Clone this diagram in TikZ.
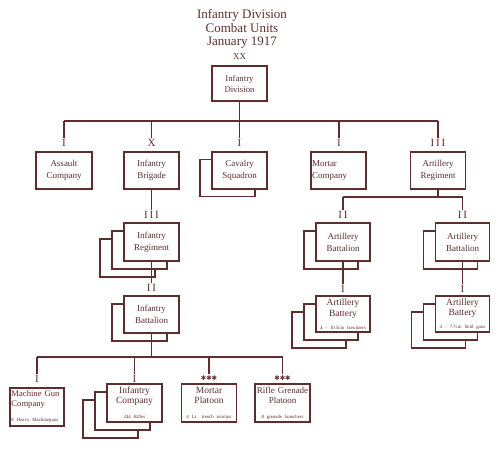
\documentclass[tikz,border=0pt]{standalone}
\usepackage{fontspec}
\setmainfont{Liberation Serif}
\newfontfamily\symfont{DejaVu Sans}
\usetikzlibrary{calc}
\definecolor{ink}{RGB}{94,46,46}
\tikzset{
  ubox/.style={draw=ink, line width=1.6pt, fill=white, minimum width=55pt, minimum height=37pt, inner sep=0pt, text width=54pt, align=center, text=ink, font=\fontsize{9}{12}\selectfont},
  ech/.style={text=ink, inner sep=0.5pt, font=\fontsize{11}{11}\selectfont},
  conn/.style={draw=ink, line width=1.2pt},
}
\newcommand{\smalltxt}[1]{{\fontsize{4.8}{5.5}\selectfont #1}}
\newcommand{\stars}{{\symfont\fontsize{6.5}{6.5}\selectfont ✱✱✱}}
\begin{document}
\begin{tikzpicture}[x=1pt,y=-1pt]
\useasboundingbox (0,0) rectangle (501,454);
% title
\node[text=ink, align=center, font=\fontsize{13}{13.5}\selectfont] (title) at (242,29) {Infantry Division\\Combat Units\\January 1917};
\node[ech, font=\fontsize{9}{9}\selectfont] (lxx) at (239.5,56.5) {XX};
\node[ubox, minimum height=35pt, font=\fontsize{8.7}{11}\selectfont] (div) at (239.5,83.5) {Infantry\\Division};

% top bar
\coordinate (hA) at (64,121);
\coordinate (hB) at (151.5,121);
\coordinate (hC) at (239.5,121);
\coordinate (hM) at (339,121);
\coordinate (hR) at (438,121);
\draw[conn] (div.south) -- (hC);
\draw[conn] (hA) -- (hR);

% level 1 boxes
\node[ubox, minimum width=56pt] (assault) at (64,170.5) {Assault\\Company};
\node[ubox] (brig) at (151.5,170.5) {Infantry\\Brigade};
\node[ubox] (cavB) at (227.5,178) {};
\node[ubox] (cav) at (239.5,170.5) {Cavalry\\Squadron};
\node[ubox, align=left, text width=53pt] (mortco) at (338.5,170.5) {Mortar\\Company};
\node[ubox] (artreg) at (438,170.5) {Artillery\\Regiment};

\node[ech] (lA) at (64,142.5) {I};
\node[ech] (lB) at (151.5,142.5) {X};
\node[ech] (lC) at (239.5,142.5) {I};
\node[ech] (lM) at (339,142.5) {I};
\node[ech] (lR) at (438,142.5) {I\,I\,I};
\foreach \h/\l in {hA/lA,hB/lB,hC/lC,hM/lM,hR/lR} \draw[conn] (\h) -- (\l.north);

% infantry regiment
\node[ubox, minimum height=38pt] (regB2) at (127.5,258) {};
\node[ubox, minimum height=38pt] (regB1) at (139.5,250) {};
\node[ubox, minimum height=38pt] (reg) at (151.5,242) {Infantry\\Regiment};
\node[ech] (lreg) at (151.5,214.5) {I\,I\,I};
\draw[conn] (brig.south) -- (lreg.north);

% infantry battalion
\node[ubox] (bnB1) at (139.5,322.5) {};
\node[ubox] (bn) at (151.5,314.5) {Infantry\\Battalion};
\node[ech] (lbn) at (151.5,287.5) {I\,I};
\draw[conn] (reg.south) -- (lbn.north);

% bottom bar
\coordinate (bH) at (151.5,357);
\coordinate (bA) at (37,357);
\coordinate (bB) at (134.5,357);
\coordinate (bC) at (209,357);
\coordinate (bD) at (282.5,357);
\draw[conn] (bn.south) -- (bH);
\draw[conn] (bA) -- (bD);

\node[ubox, minimum width=54pt, minimum height=38pt, align=left, text width=51pt] (mg) at (37,407) {{\fontsize{8.6}{10}\selectfont \mbox{Machine Gun}\\Company\par}\vspace{3pt}\smalltxt{8 Heavy Machineguns}};
\node[ubox, minimum height=38pt] (coB2) at (110.5,419) {};
\node[ubox, minimum height=38pt] (coB1) at (122.5,411) {};
\node[ubox, minimum height=38pt] (co) at (134.5,403) {{\fontsize{9.5}{10}\selectfont Infantry\\Company\par}\vspace{3pt}\smalltxt{244 Rifles}};
\node[ubox, minimum height=38pt] (mpl) at (209,403) {{\fontsize{9.5}{10}\selectfont Mortar\\Platoon\par}\vspace{3pt}\smalltxt{4 Lt. trench mortars}};
\node[ubox, minimum height=38pt] (rgp) at (282.5,403) {{\fontsize{9}{10}\selectfont \makebox[54pt]{Rifle Grenade}\\Platoon\par}\vspace{3pt}\smalltxt{8 grenade launchers}};

\node[ech] (lmg) at (37,378.5) {I};
\node[ech] (lco) at (134.5,378.5) {I};
\node[text=ink, inner sep=1pt] (lmp) at (209,378) {\stars};
\node[text=ink, inner sep=1pt] (lrg) at (282.5,378) {\stars};
\foreach \h/\l in {bA/lmg,bB/lco,bC/lmp,bD/lrg} \draw[conn] (\h) -- (\l.north);

% artillery
\coordinate (aH) at (438,197);
\coordinate (aL) at (343,197);
\coordinate (aR) at (462.5,197);
\draw[conn] (artreg.south) -- (aH);
\draw[conn] (aL) -- (aR);

\node[ubox, minimum width=54pt, minimum height=38pt] (abLB) at (331,250) {};
\node[ubox, minimum width=54pt, minimum height=38pt] (abL) at (343,242) {Artillery\\Battalion};
\node[ubox, minimum width=54pt, minimum height=38pt] (abRB) at (450.5,250) {};
\node[ubox, minimum width=54pt, minimum height=38pt] (abR) at (462.5,242) {Artillery\\Battalion};
\node[ech] (labL) at (343,214.5) {I\,I};
\node[ech] (labR) at (462.5,214.5) {I\,I};
\draw[conn] (aL) -- (labL.north);
\draw[conn] (aR) -- (labR.north);

\node[ubox, minimum width=54pt, minimum height=36pt] (btLB2) at (319,330) {};
\node[ubox, minimum width=54pt, minimum height=36pt] (btLB1) at (331,322) {};
\node[ubox, minimum width=54pt, minimum height=36pt] (btL) at (343,314) {{\fontsize{9.5}{10.5}\selectfont Artillery\\Battery\par}\vspace{1pt}\smalltxt{4 - 10.5cm howitzers}};
\node[ubox, minimum width=54pt, minimum height=36pt] (btRB2) at (438.5,330) {};
\node[ubox, minimum width=54pt, minimum height=36pt] (btRB1) at (450.5,322) {};
\node[ubox, minimum width=54pt, minimum height=36pt] (btR) at (462.5,314) {{\fontsize{9.5}{10.5}\selectfont Artillery\\Battery\par}\vspace{1pt}\smalltxt{4 - 7.7cm field guns}};
\node[ech] (lbtL) at (343,288.5) {I};
\node[ech] (lbtR) at (462.5,288.5) {I};
\draw[conn] (abL.south) -- (lbtL.north);
\draw[conn] (abR.south) -- (lbtR.north);
\end{tikzpicture}
\end{document}
